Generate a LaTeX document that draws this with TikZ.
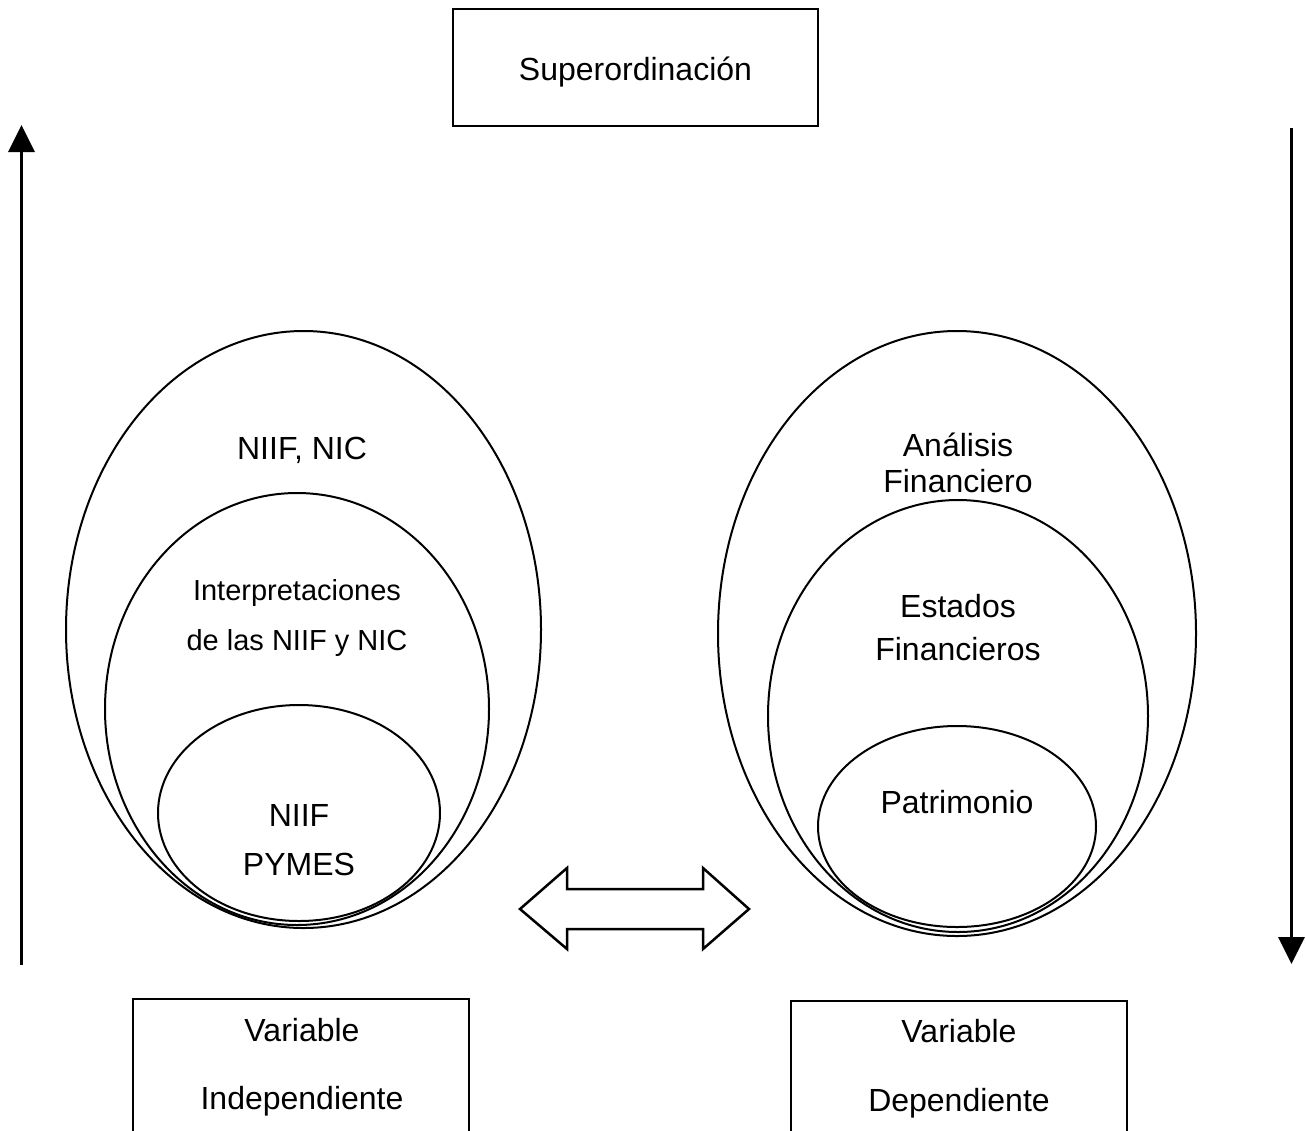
\documentclass[tikz,border=0pt]{standalone}
\usepackage{fontspec}
\setmainfont{Liberation Sans}
\usetikzlibrary{shapes.geometric,arrows.meta}
\begin{document}
\begin{tikzpicture}[x=1pt,y=-1pt,
  line join=miter,
  oval/.style={ellipse,draw,line width=2pt,inner sep=0pt},
  lbl/.style={anchor=base,inner sep=0pt,font=\fontsize{32}{38}\selectfont},
  lblsm/.style={anchor=base,inner sep=0pt,font=\fontsize{29}{35}\selectfont},
  frame/.style={draw,line width=2pt},
  axis/.style={line width=3pt,-{Triangle[length=27pt,width=26pt]}}]
\useasboundingbox (0,0) rectangle (1306,1130);

% title box
\node[frame,minimum width=365pt,minimum height=117pt,inner sep=0pt] (sup) at (635.5,67.5) {};
\node[lbl] (tsup) at (635.5,80) {Superordinación};

% vertical direction arrows
\coordinate (la) at (21.5,965);
\coordinate (lb) at (21.5,125);
\coordinate (ra) at (1291.5,128);
\coordinate (rb) at (1291.5,964);
\draw[axis] (la) -- (lb);
\draw[axis] (ra) -- (rb);

% left set of nested ellipses
\node[oval,minimum width=475pt,minimum height=597pt] (lo) at (303.5,629.5) {};
\node[oval,minimum width=384pt,minimum height=432pt] (lm) at (297,709) {};
\node[oval,minimum width=282pt,minimum height=216pt] (li) at (299,813) {};
\node[lbl] (t1) at (302,459) {NIIF, NIC};
\node[lblsm] (t2) at (297,600) {Interpretaciones};
\node[lblsm] (t3) at (297,650) {de las NIIF y NIC};
\node[lbl] (t4) at (299,826) {NIIF};
\node[lbl] (t5) at (299,875) {PYMES};

% right set of nested ellipses
\node[oval,minimum width=478pt,minimum height=605pt] (ro) at (957,633.5) {};
\node[oval,minimum width=380pt,minimum height=432pt] (rm) at (958,716) {};
\node[oval,minimum width=278pt,minimum height=201pt] (ri) at (957,826.5) {};
\node[lbl] (t6) at (958,456) {Análisis};
\node[lbl] (t7) at (958,492) {Financiero};
\node[lbl] (t8) at (958,617) {Estados};
\node[lbl] (t9) at (958,660) {Financieros};
\node[lbl] (t10) at (957,813) {Patrimonio};

% hollow double arrow between the two groups
\draw[line width=2.5pt] (520,909) -- (567,868) -- (567,889) -- (703,889) -- (703,868)
  -- (749,909) -- (703,949) -- (703,929) -- (567,929) -- (567,949) -- cycle;

% variable boxes, open at the lower edge
\draw[frame] (133,1131) -- (133,999) -- (469,999) -- (469,1131);
\draw[frame] (791,1131) -- (791,1001) -- (1127,1001) -- (1127,1131);
\node[lbl] (v1) at (302,1041) {Variable};
\node[lbl] (v2) at (302,1109) {Independiente};
\node[lbl] (v3) at (959,1042) {Variable};
\node[lbl] (v4) at (959,1111) {Dependiente};
\end{tikzpicture}
\end{document}
